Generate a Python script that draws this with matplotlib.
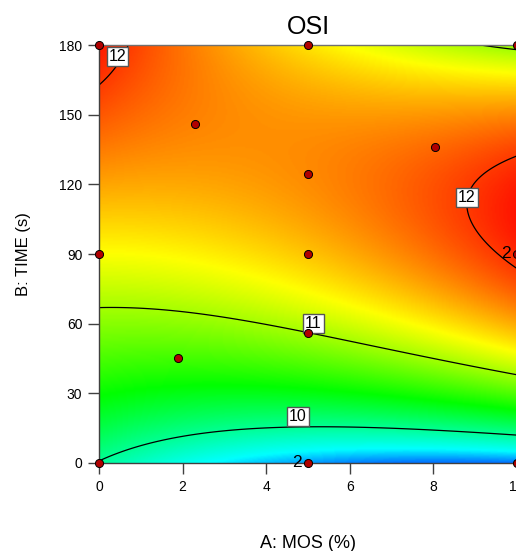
import numpy as np
import matplotlib
matplotlib.use("Agg")
import matplotlib.pyplot as plt
from matplotlib.colors import LinearSegmentedColormap, Normalize

# ---- model (coded units: x=(A-5)/5, z=(B-90)/90), reduced cubic response surface ----
model_terms = ["1", "x", "z", "xz", "x2", "z2", "x2z", "xz2", "x3", "z3"]
model_coefs = [11.5053, 0.407, 0.9466, -0.1592, 0.1704, -1.0575, -0.0362, -0.8215, -0.0212, -0.0007]

# ---- design points ----
design_A = [0, 5, 10, 2.3, 8.04, 5, 0, 5, 10, 1.9, 5, 0, 5, 10]
design_B = [180, 180, 180, 145.9, 136, 124.3, 90, 90, 90, 45.1, 56.1, 0, 0, 0]
replicates = [1, 1, 1, 1, 1, 1, 1, 1, 2, 1, 1, 1, 2, 1]

contour_levels = [10, 11, 12]
x_ticks = [0, 2, 4, 6, 8, 10]
y_ticks = [0, 30, 60, 90, 120, 150, 180]
title = "OSI"
x_label = "A: MOS (%)"
y_label = "B: TIME (s)"

# label placement (layout only)
label_pos = [(0.443, 175.0, "12"), (8.80, 114.5, "12"), (5.13, 59.9, "11"), (4.76, 20.2, "10")]

plt.rcParams['font.family'] = ['Liberation Sans', 'DejaVu Sans']

def surface(A, B):
    x = (A - 5) / 5
    z = (B - 90) / 90
    t = [np.ones_like(x), x, z, x * z, x * x, z * z, x * x * z, x * z * z, x ** 3, z ** 3]
    return sum(c * ti for c, ti in zip(model_coefs, t))

Ag = np.linspace(0, 10, 300)
Bg = np.linspace(0, 180, 300)
AA, BB = np.meshgrid(Ag, Bg)
F = surface(AA, BB)

node_vals = [9.42, 9.66, 10.45, 11.3, 12.14]
node_cols = [(0, 115 / 255, 1), (0, 1, 1), (0, 1, 0), (1, 1, 0), (1, 20 / 255, 0)]
vmin, vmax = node_vals[0], node_vals[-1]
cmap = LinearSegmentedColormap.from_list(
    "de", [((v - vmin) / (vmax - vmin), c) for v, c in zip(node_vals, node_cols)])

W, H = 516, 551
fig = plt.figure(figsize=(W / 100, H / 100), dpi=100)
ax = fig.add_axes([99 / W, (H - 463) / H, 418 / W, 418 / H])

ax.imshow(F, extent=[0, 10, 0, 180], origin="lower", aspect="auto", cmap=cmap,
          norm=Normalize(vmin, vmax), interpolation="bilinear")
ax.contour(AA, BB, F, levels=contour_levels, colors="black", linewidths=0.9)

for a, b, s in label_pos:
    ax.text(a, b, s, ha="center", va="center", fontsize=11.5, color="black",
            bbox=dict(boxstyle="square,pad=0.12", fc="white", ec="#555555", lw=1), zorder=5)

ax.scatter(design_A, design_B, s=34, c="#b00000", edgecolors="black", linewidths=0.7,
           zorder=6, clip_on=False)
for a, b, r in zip(design_A, design_B, replicates):
    if r > 1:
        ax.annotate(str(r), (a, b), xytext=(-4.3, -2.9), textcoords="offset points",
                    ha="right", va="baseline", fontsize=12.5, annotation_clip=False, zorder=7)

ax.set_xlim(0, 10)
ax.set_ylim(0, 180)
ax.set_xticks(x_ticks)
ax.set_yticks(y_ticks)
ax.tick_params(direction="out", length=8, width=1, color="#404040", labelsize=10, pad=4)
for sp in ax.spines.values():
    sp.set_color("#404040")
    sp.set_linewidth(1)
ax.spines["top"].set_color("#707070")

fig.text(308 / W, 1 - 34 / H, title, ha="center", va="baseline", fontsize=18)
fig.text(308 / W, 1 - 548 / H, x_label, ha="center", va="baseline", fontsize=13)
fig.text(24 / W, 1 - 254 / H, y_label, ha="center", va="center", rotation=90, fontsize=12)

fig.savefig("out.png", dpi=100)
